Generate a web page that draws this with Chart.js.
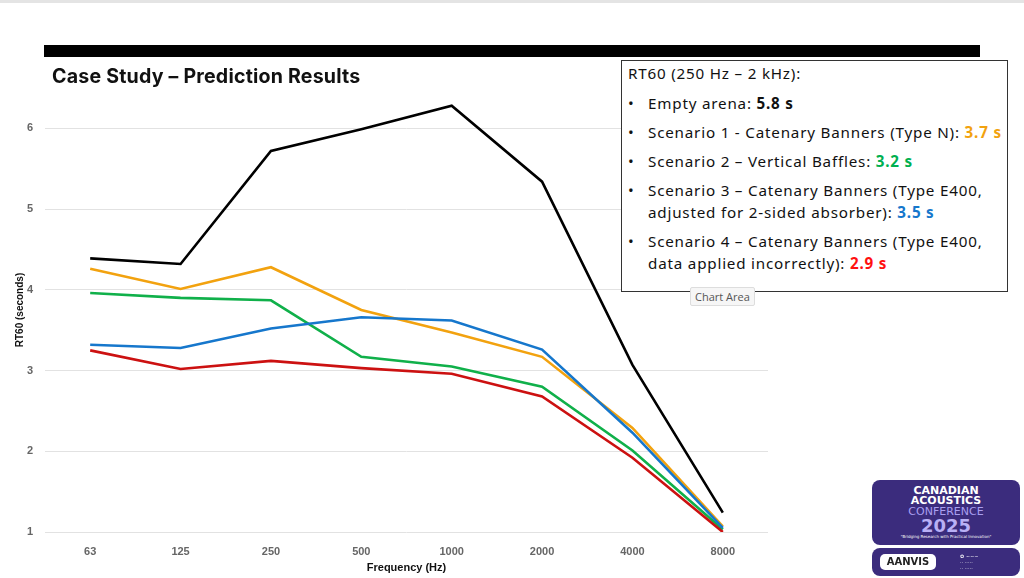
<!DOCTYPE html>
<html>
<head>
<meta charset="utf-8">
<script src="https://cdn.jsdelivr.net/npm/chart.js@4.4.1/dist/chart.umd.min.js"></script>
<style>
  html, body { margin: 0; padding: 0; background: #fff; }
  #wrap { position: relative; width: 1024px; height: 578px; overflow: hidden; font-family: "Noto Sans", sans-serif; }
  #topline { position: absolute; left: 0; top: 0; width: 1024px; height: 3px; background: #e4e4e4; }
  #bar { position: absolute; left: 44px; top: 45px; width: 936px; height: 12px; background: #000; }
  #title { position: absolute; left: 52px; top: 64px; font-family: "Inter", sans-serif; font-size: 19.6px; font-weight: bold; color: #111; letter-spacing: 0.2px; }
  #chart { position: absolute; left: 0; top: 0; }
  #box { position: absolute; left: 621px; top: 60px; width: 387px; height: 232px; border: 1px solid #333; background: #fff; color: #111; font-size: 15.2px; letter-spacing: 0.8px; box-sizing: border-box; padding: 2px 0 0 6px; }
  #box .hd { line-height: 20px; margin-bottom: 9px; }
  #box ul { margin: 0; padding: 0; list-style: none; }
  #box li { position: relative; padding-left: 20px; line-height: 22px; margin-bottom: 7px; white-space: nowrap; }
  #box li::before { content: "\2022"; position: absolute; left: 0; top: 0; }
  #tip { position: absolute; left: 690px; top: 287px; padding: 1px 4px; font-size: 11px; color: #555; background: #f6f6f6; border: 1px solid #ddd; border-radius: 2px; font-family: "Open Sans", sans-serif; }
  .logo { position: absolute; left: 872px; width: 148px; background: #3b2c7d; border-radius: 8px; color: #fff; text-align: center; font-family: "DejaVu Sans", sans-serif; }
  #logo1 { top: 480px; height: 65px; }
  #logo2 { top: 548px; height: 28px; }
</style>
</head>
<body>
<div id="wrap">
  <div id="topline"></div>
  <canvas id="chart" width="1024" height="578"></canvas>
  <div id="bar"></div>
  <div id="title">Case Study – Prediction Results</div>
  <div id="box">
    <div class="hd">RT60 (250 Hz – 2 kHz):</div>
    <ul>
      <li>Empty arena: <b>5.8 s</b></li>
      <li>Scenario 1 - Catenary Banners (Type N): <b style="color:#F2A20F">3.7 s</b></li>
      <li>Scenario 2 – Vertical Baffles: <b style="color:#00B050">3.2 s</b></li>
      <li>Scenario 3 – Catenary Banners (Type E400,<br>adjusted for 2-sided absorber): <b style="color:#1677CC">3.5 s</b></li>
      <li>Scenario 4 – Catenary Banners (Type E400,<br>data applied incorrectly): <b style="color:#FF1010">2.9 s</b></li>
    </ul>
  </div>
  <div id="tip">Chart Area</div>
  <div class="logo" id="logo1">
    <div style="font-weight:bold;font-size:11px;line-height:10px;padding-top:6px">CANADIAN<br>ACOUSTICS</div>
    <div style="font-size:11px;line-height:11px;color:#a99ff0">CONFERENCE</div>
    <div style="font-weight:bold;font-size:18px;line-height:17px;color:#b9b0f5">2025</div>
    <div style="font-size:4px;line-height:6px">"Bridging Research with Practical Innovation"</div>
  </div>
  <div class="logo" id="logo2">
    <div style="position:absolute;left:8px;top:6px;width:56px;height:16px;background:#fff;border-radius:5px;color:#222;font-weight:bold;font-size:10px;line-height:16px">AANVIS</div>
    <div style="position:absolute;left:88px;top:5px;font-size:5px;line-height:6px;text-align:left">✿ ~~~<br>·· ·····<br>·· ·····</div>
  </div>
</div>
<script>
// frequencies (Hz) and RT60 predictions (s)
const frequencies = ['63', '125', '250', '500', '1000', '2000', '4000', '8000'];
const emptyArena = [4.39, 4.32, 5.72, 5.99, 6.28, 5.34, 3.07, 1.24];
const scenario1 = [4.26, 4.01, 4.28, 3.75, 3.47, 3.17, 2.29, 1.07];
const scenario2 = [3.96, 3.90, 3.87, 3.17, 3.05, 2.80, 2.01, 1.03];
const scenario3 = [3.32, 3.28, 3.52, 3.66, 3.62, 3.26, 2.23, 1.05];
const scenario4 = [3.25, 3.02, 3.12, 3.03, 2.96, 2.68, 1.92, 1.00];

const line = (label, data, color) => ({
  label, data, borderColor: color, backgroundColor: color,
  borderWidth: 2.6, pointRadius: 0, tension: 0
});

const tickFont = { family: 'Liberation Sans', size: 11, weight: 'bold' };

new Chart(document.getElementById('chart').getContext('2d'), {
  type: 'line',
  data: {
    labels: frequencies,
    datasets: [
      line('Scenario 4', scenario4, '#CC1111'),
      line('Scenario 3', scenario3, '#1677CC'),
      line('Scenario 2', scenario2, '#10B04A'),
      line('Scenario 1', scenario1, '#F2A20F'),
      line('Empty arena', emptyArena, '#000000')
    ]
  },
  options: {
    responsive: false, animation: false,
    layout: { padding: { top: 88, right: 256, left: 0, bottom: 0 } },
    plugins: { legend: { display: false }, tooltip: { enabled: false } },
    scales: {
      x: {
        offset: true,
        grid: { display: false, drawTicks: false },
        border: { display: false },
        ticks: { color: '#666', font: tickFont, padding: 13 },
        title: { display: true, text: 'Frequency (Hz)', color: '#111', font: { family: 'Liberation Sans Narrow, Liberation Sans', size: 11, weight: 'bold' }, padding: { top: 0, bottom: 3 } },
        afterFit: s => { s.height = 46; }
      },
      y: {
        min: 1, max: 6.5,
        grid: { color: '#e2e2e2', drawTicks: false, lineWidth: 1 },
        border: { display: false },
        ticks: { stepSize: 1, includeBounds: false, color: '#666', font: tickFont, padding: 12 },
        title: { display: true, text: 'RT60 (seconds)', color: '#111', font: { family: 'Liberation Sans', size: 10, weight: 'bold' }, padding: { top: 14, bottom: 0 } },
        afterFit: s => { s.width = 45; }
      }
    }
  }
});
</script>
</body>
</html>
